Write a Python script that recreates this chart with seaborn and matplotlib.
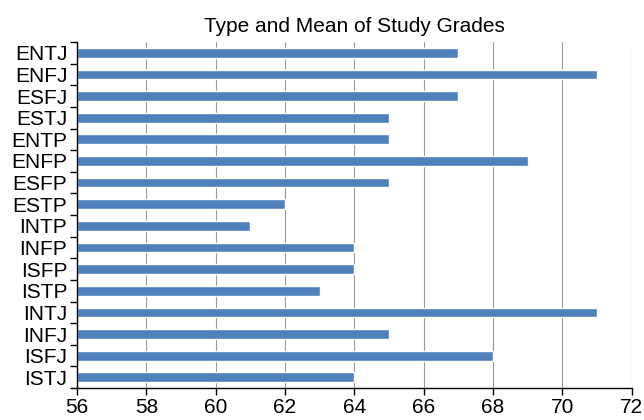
import numpy as np
import pandas as pd
import matplotlib
matplotlib.use("Agg")
import matplotlib.pyplot as plt
import seaborn as sns

# Data
types = ["ENTJ", "ENFJ", "ESFJ", "ESTJ", "ENTP", "ENFP", "ESFP", "ESTP",
         "INTP", "INFP", "ISFP", "ISTP", "INTJ", "INFJ", "ISFJ", "ISTJ"]
mean_grades = [67, 71, 67, 65, 65, 69, 65, 62,
               61, 64, 64, 63, 71, 65, 68, 64]
x_ticks = [56, 58, 60, 62, 64, 66, 68, 70, 72]

df = pd.DataFrame({"Type": types, "Grade": mean_grades})

sns.set_style("white", {"text.color": "black", "xtick.color": "black",
                        "ytick.color": "black", "axes.labelcolor": "black"})
plt.rcParams['font.family'] = ['Liberation Sans', 'DejaVu Sans']

fig = plt.figure(figsize=(6.44, 4.2), dpi=100)
ax = fig.add_axes([0.1196, 0.076, 0.8614, 0.824])

# bars start at the axis minimum (56)
base = x_ticks[0]
df["Len"] = df["Grade"] - base
sns.barplot(data=df, y="Type", x="Len", left=base, color="#4F81BD",
            saturation=1, width=0.45, ax=ax, orient="h")

ax.set_xlim(x_ticks[0], x_ticks[-1])
ax.set_ylim(len(types) - 0.5, -0.5)
ax.set_xticks(x_ticks)
ax.set_xticklabels([str(t) for t in x_ticks], fontsize=15, color="black")
ax.set_yticks(range(len(types)))
ax.set_yticklabels(types, fontsize=15, color="black")
ax.tick_params(axis="y", which="major", left=True, length=0, pad=7)
ax.set_yticks(np.arange(-0.5, len(types), 1), minor=True)
ax.tick_params(axis="y", which="minor", left=True, length=5, width=1,
               color="black", direction="out")
ax.tick_params(axis="x", which="major", bottom=True, length=5, width=1,
               color="black", direction="out", pad=2)

ax.xaxis.grid(True, color="#999999", linewidth=0.8)
ax.set_axisbelow(True)
for s in ["top", "right"]:
    ax.spines[s].set_visible(False)
for s in ["left", "bottom"]:
    ax.spines[s].set_color("black")
    ax.spines[s].set_linewidth(1)

ax.set_xlabel("")
ax.set_ylabel("")
ax.set_title("Type and Mean of Study Grades", fontsize=15, pad=7, color="black")

fig.savefig("out.png", dpi=100)
